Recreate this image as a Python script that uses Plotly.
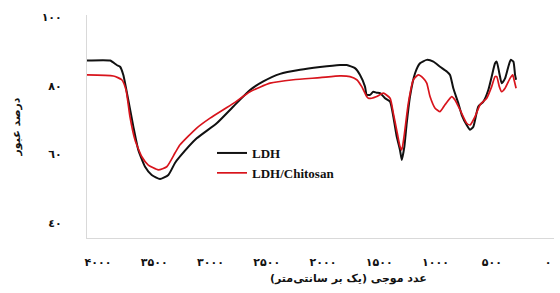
import plotly.graph_objects as go

# ---- data ----
ldh_wavenumber = [4098, 3893, 3834, 3804, 3775, 3731, 3686, 3642, 3582, 3523,
                  3449, 3375, 3316, 3271, 3123, 2945, 2797, 2649, 2531, 2382,
                  2204, 2027, 1849, 1789, 1716, 1671, 1627, 1612, 1582, 1553,
                  1523, 1493, 1449, 1404, 1375, 1345, 1316, 1300, 1277, 1256,
                  1227, 1182, 1138, 1078, 1019, 960, 900, 871, 842, 797,
                  767, 723, 693, 664, 620, 575, 531, 501, 471, 456,
                  433, 412, 382, 353, 332, 308, 293, 284]
ldh_transmittance = [87.4, 87.4, 86.1, 85.6, 83.2, 75.9, 68.1, 61.3, 56.4, 54.0,
                     52.8, 54.0, 57.5, 59.4, 64.7, 69.1, 74.0, 78.8, 81.3, 83.5,
                     84.7, 85.5, 86.1, 86.1, 85.2, 83.2, 79.8, 77.4, 77.4, 78.3,
                     78.0, 77.9, 76.4, 75.4, 71.0, 65.2, 61.3, 58.4, 62.3, 69.1,
                     76.9, 83.7, 86.6, 87.6, 87.1, 85.6, 84.2, 83.2, 79.3, 74.9,
                     71.5, 68.6, 67.2, 68.1, 74.0, 75.4, 78.8, 82.7, 86.6, 87.1,
                     83.7, 80.8, 82.2, 85.6, 87.6, 87.1, 83.2, 81.8]

chi_wavenumber = [4098, 3864, 3789, 3751, 3716, 3671, 3612, 3553, 3464, 3389,
                  3316, 3271, 3123, 3004, 2797, 2649, 2471, 2264, 2027, 1849,
                  1760, 1700, 1656, 1612, 1597, 1567, 1523, 1464, 1404, 1375,
                  1340, 1316, 1300, 1280, 1242, 1197, 1153, 1108, 1078, 1049,
                  1004, 960, 916, 856, 827, 782, 723, 693, 649, 604,
                  545, 501, 471, 456, 433, 412, 382, 338, 314, 302, 284]
chi_transmittance = [83.2, 82.9, 81.8, 78.8, 71.0, 64.2, 59.4, 56.9, 55.5, 56.4,
                     60.4, 62.8, 67.7, 70.6, 74.9, 78.3, 80.8, 81.8, 82.4, 82.9,
                     82.7, 81.8, 79.8, 76.9, 76.4, 76.4, 76.9, 77.9, 76.4, 72.0,
                     66.2, 62.3, 61.3, 65.2, 74.9, 81.8, 83.2, 82.2, 80.8, 76.9,
                     73.5, 72.5, 74.5, 76.9, 75.9, 73.0, 69.1, 68.6, 71.0, 74.5,
                     76.4, 79.8, 82.7, 82.7, 79.8, 78.3, 79.3, 82.2, 83.2, 81.8, 79.3]

x_tick_values = [4000, 3500, 3000, 2500, 2000, 1500, 1000, 500, 0]
x_tick_labels = ["۴۰۰۰", "۳۵۰۰", "۳۰۰۰", "۲۵۰۰", "۲۰۰۰", "۱۵۰۰", "۱۰۰۰", "۵۰۰", "۰"]
y_tick_values = [40, 60, 80, 100]
y_tick_labels = ["٤٠", "٦٠", "٨٠", "١٠٠"]

series_names = ["LDH", "LDH/Chitosan"]
x_title = "\u200fعدد موجی (یک بر سانتی\u200cمتر)\u200f"
y_title = "درصد عبور"

ARABIC_FONT = "DejaVu Sans"
W, H = 560, 293
ML, MR, MT, MB = 87, 6, 15, 55

fig = go.Figure()
fig.add_trace(go.Scatter(
    x=ldh_wavenumber, y=ldh_transmittance, name=series_names[0], mode="lines",
    line=dict(color="#111111", width=2, shape="spline", smoothing=0.5)))
fig.add_trace(go.Scatter(
    x=chi_wavenumber, y=chi_transmittance, name=series_names[1], mode="lines",
    line=dict(color="#d8141c", width=1.7, shape="spline", smoothing=0.5)))

fig.update_layout(
    width=W, height=H,
    margin=dict(l=ML, r=MR, t=MT, b=MB, pad=0),
    paper_bgcolor="white", plot_bgcolor="white",
    showlegend=True,
    legend=dict(
        x=(212 - ML) / (W - ML - MR), y=(H - MB - 138) / (H - MT - MB),
        xanchor="left", yanchor="top",
        bgcolor="rgba(0,0,0,0)", borderwidth=0,
        font=dict(family="Liberation Serif, Times New Roman, serif", size=13,
                  color="#111111", weight="bold"),
        itemwidth=30, tracegroupgap=0,
    ),
    xaxis=dict(
        range=[4098, -53], tickmode="array", tickvals=x_tick_values,
        ticktext=x_tick_labels, showgrid=False, zeroline=False,
        showline=True, linecolor="#d9d9d9", linewidth=1, ticks="",
        ticklabelstandoff=14,
        tickfont=dict(family=ARABIC_FONT, size=11, color="#111111", weight="bold"),
    ),
    yaxis=dict(
        range=[35.6, 100.7], tickmode="array", tickvals=y_tick_values,
        ticktext=y_tick_labels, showgrid=False, zeroline=False,
        showline=True, linecolor="#d9d9d9", linewidth=1, ticks="",
        ticklabelstandoff=22,
        tickfont=dict(family=ARABIC_FONT, size=11, color="#111111", weight="bold"),
        title=dict(text=y_title, standoff=18,
                   font=dict(family=ARABIC_FONT, size=11, color="#111111", weight="bold")),
    ),
)

fig.add_annotation(
    text=x_title, xref="paper", yref="paper",
    x=(348 - ML) / (W - ML - MR), y=-(278 - (H - MB)) / (H - MT - MB),
    xanchor="center", yanchor="middle", showarrow=False,
    font=dict(family=ARABIC_FONT, size=11, color="#111111", weight="bold"))

fig.write_html(
    "out.html",
    config={"displayModeBar": False},
    post_script="document.body.style.margin='0';document.body.style.overflow='hidden';")
